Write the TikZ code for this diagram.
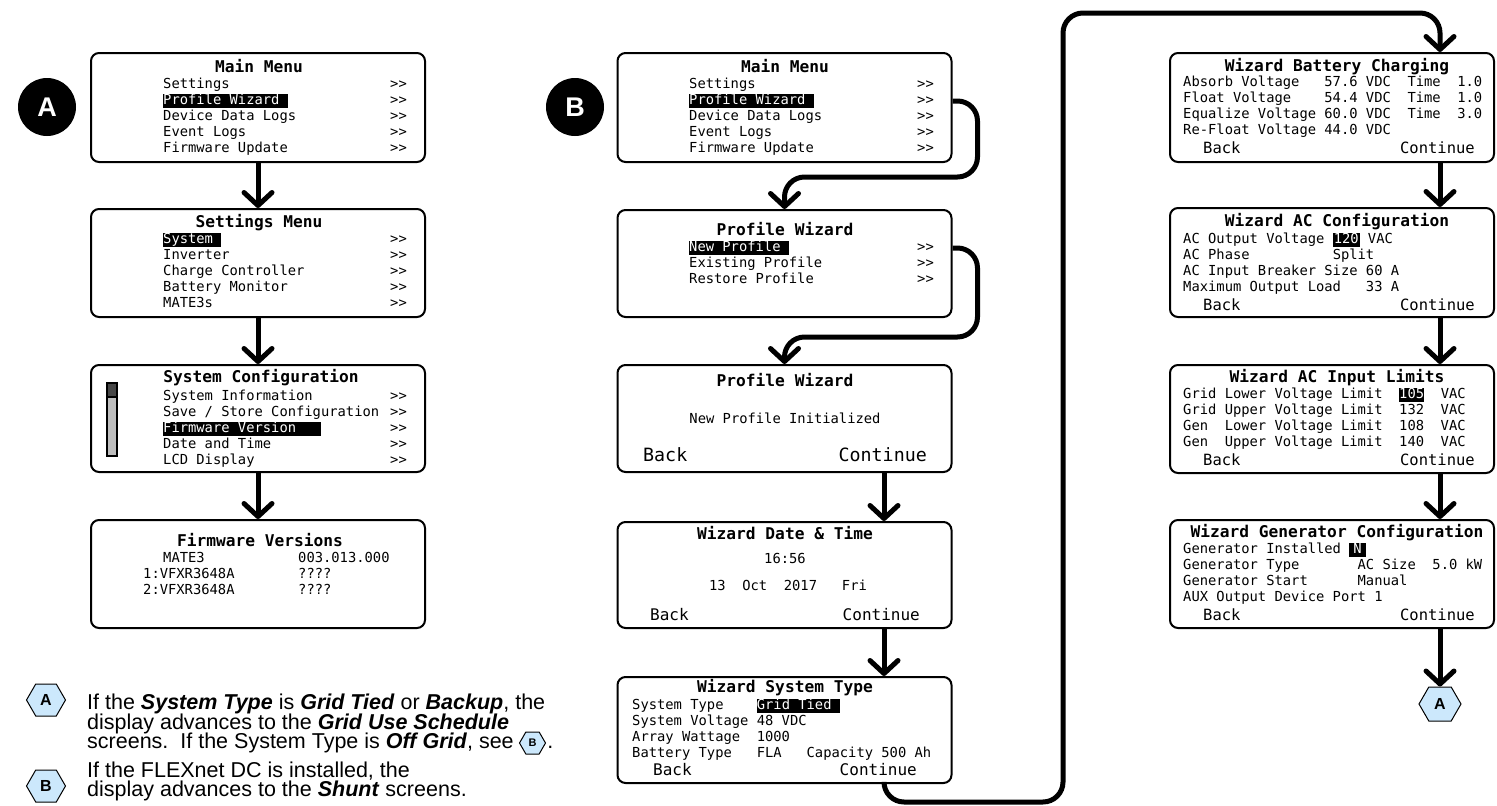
\documentclass[tikz,border=0pt]{standalone}
\usepackage{fontspec}
\usepackage{tikz}
\setmainfont{Liberation Sans}
\newfontfamily\lcdfont{DejaVu Sans Mono}
\usetikzlibrary{arrows.meta}
\usetikzlibrary{shapes.symbols}
\usetikzlibrary{positioning}

\definecolor{hexblue}{RGB}{204,232,252}
\definecolor{barbody}{RGB}{190,190,190}
\definecolor{bartop}{RGB}{70,70,70}

\newcommand{\hl}[1]{{\setlength{\fboxsep}{0pt}\colorbox{black}{\rule[-3pt]{0pt}{13.5pt}\textcolor{white}{#1}}}}

\tikzset{
    screen/.style={draw, line width=2pt, rounded corners=8pt, inner sep=0pt, minimum width=334pt},
    lcd/.style={font=\lcdfont\fontsize{13.8}{16}\selectfont, inner sep=0pt, text height=10pt, text depth=3pt, anchor=west},
    lcdtitle/.style={font=\lcdfont\bfseries\fontsize{16.2}{18}\selectfont, inner sep=0pt, text height=12pt, text depth=3.5pt},
    lcdkey/.style={font=\lcdfont\fontsize{#1}{#1}\selectfont, inner sep=0pt},
    lcdkey/.default=16,
    flow/.style={line width=5pt, -{Straight Barb[length=13pt, width=28pt, line cap=round, line join=round]}},
    elbow/.style={rounded corners=20pt},
    badge/.style={circle, fill=black, inner sep=0pt, minimum size=58pt, text=white, font=\bfseries\fontsize{27}{27}\selectfont},
    hexa/.style={signal, signal to=west and east, signal pointer angle=120, draw, line width=1pt, fill=hexblue, inner sep=0pt, font=\bfseries\fontsize{#1}{#1}\selectfont},
    notetext/.style={font=\fontsize{21.5}{21.5}\selectfont, inner sep=0pt, anchor=west}
}

\begin{document}
\begin{tikzpicture}[x=1pt, y=-1pt]
    \useasboundingbox (0,0) rectangle (1497,806);

    % Column A
    \node[badge] (badgeA) at (47,107) {A};

    \node[screen, minimum height=109pt] (mmA) at (258,107.5) {};
    \node[lcdtitle] (mmA-t) at (259,68) {Main Menu};
    \foreach \t [count=\i, evaluate=\i as \y using 69+16*\i] in {Settings, \hl{Profile Wizard~}, Device Data Logs, Event Logs, Firmware Update} {
        \node[lcd] (mmA-\i) at (163,\y) {\t};
        \node[lcd] (mmA-g\i) at (390,\y) {>{}>};
    }

    \node[screen, minimum height=108pt] (smA) at (258,263) {};
    \node[lcdtitle] (smA-t) at (259,223) {Settings Menu};
    \foreach \t [count=\i, evaluate=\i as \y using 224+16*\i] in {\hl{System~}, Inverter, Charge Controller, Battery Monitor, MATE3s} {
        \node[lcd] (smA-\i) at (163,\y) {\t};
        \node[lcd] (smA-g\i) at (390,\y) {>{}>};
    }

    \node[screen, minimum height=107pt] (scA) at (258,418.5) {};
    \node[lcdtitle] (scA-t) at (261,378) {System Configuration};
    \foreach \t [count=\i, evaluate=\i as \y using 381+16*\i] in {System Information, Save / Store Configuration, \hl{Firmware Version~~~}, Date and Time, LCD Display} {
        \node[lcd] (scA-\i) at (163,\y) {\t};
        \node[lcd] (scA-g\i) at (390,\y) {>{}>};
    }
    \draw[line width=1.5pt, fill=barbody] (107,383) rectangle (117,456);
    \draw[line width=1.5pt, fill=bartop] (107,383) rectangle (117,397);

    \node[screen, minimum height=108pt] (fvA) at (258,574) {};
    \node[lcdtitle] (fvA-t) at (260,542) {Firmware Versions};
    \foreach \a/\b/\x [count=\i, evaluate=\i as \y using 543+16*\i] in {MATE3/003.013.000/163, 1:VFXR3648A/????/143, 2:VFXR3648A/????/143} {
        \node[lcd] (fvA-\i) at (\x,\y) {\a};
        \node[lcd] (fvA-v\i) at (298,\y) {\b};
    }

    % Column B
    \node[badge] (badgeB) at (575,107) {B};

    \node[screen, minimum height=109pt] (mmB) at (784.5,107.5) {};
    \node[lcdtitle] (mmB-t) at (785,68) {Main Menu};
    \foreach \t [count=\i, evaluate=\i as \y using 69+16*\i] in {Settings, \hl{Profile Wizard~}, Device Data Logs, Event Logs, Firmware Update} {
        \node[lcd] (mmB-\i) at (689,\y) {\t};
        \node[lcd] (mmB-g\i) at (917,\y) {>{}>};
    }

    \node[screen, minimum height=107pt] (pwB) at (784.5,263.5) {};
    \node[lcdtitle] (pwB-t) at (785,231) {Profile Wizard};
    \foreach \t [count=\i, evaluate=\i as \y using 232+16*\i] in {\hl{New Profile~}, Existing Profile, Restore Profile} {
        \node[lcd] (pwB-\i) at (689,\y) {\t};
        \node[lcd] (pwB-g\i) at (917,\y) {>{}>};
    }

    \node[screen, minimum height=107pt] (piB) at (784.5,418.5) {};
    \node[lcdtitle] (piB-t) at (785,382) {Profile Wizard};
    \node[lcd, anchor=center] (piB-m) at (785,420) {New Profile Initialized};
    \node[lcdkey=18.3, anchor=west] (piB-b) at (643,455) {Back};
    \node[lcdkey=18.3, anchor=east] (piB-c) at (927,455) {Continue};

    \node[screen, minimum height=106pt] (dtB) at (784.5,575) {};
    \node[lcdtitle] (dtB-t) at (785,535) {Wizard Date \& Time};
    \node[lcd, anchor=center] (dtB-h) at (785,560) {16:56};
    \node[lcd, anchor=center] (dtB-d) at (788,587) {13~~Oct~~2017~~~Fri};
    \node[lcdkey, anchor=west] (dtB-b) at (650,615) {Back};
    \node[lcdkey, anchor=east] (dtB-c) at (920,615) {Continue};

    \node[screen, minimum height=106pt] (stB) at (784.5,730) {};
    \node[lcdtitle] (stB-t) at (785,688) {Wizard System Type};
    \foreach \t [count=\i, evaluate=\i as \y using 690+16*\i] in {System Type~~~~\hl{Grid Tied~}, System Voltage 48 VDC, Array Wattage~~1000, Battery Type~~~FLA~~~Capacity 500 Ah}
        \node[lcd] (stB-\i) at (632,\y) {\t};
    \node[lcdkey, anchor=west] (stB-b) at (653,770) {Back};
    \node[lcdkey, anchor=east] (stB-c) at (917,770) {Continue};

    % Column right
    \node[screen, minimum width=324pt, minimum height=109pt] (bcR) at (1332,107.5) {};
    \node[lcdtitle] (bcR-t) at (1337,67) {Wizard Battery Charging};
    \foreach \t [count=\i, evaluate=\i as \y using 67+16*\i] in {Absorb Voltage~~~57.6 VDC~~Time~~1.0, Float Voltage~~~~54.4 VDC~~Time~~1.0, Equalize Voltage 60.0 VDC~~Time~~3.0, Re-Float Voltage 44.0 VDC}
        \node[lcd] (bcR-\i) at (1183,\y) {\t};
    \node[lcdkey=15.5, anchor=west] (bcR-b) at (1203,148) {Back};
    \node[lcdkey=15.5, anchor=east] (bcR-c) at (1475,148) {Continue};

    \node[screen, minimum width=324pt, minimum height=109pt] (acR) at (1332,262.5) {};
    \node[lcdtitle] (acR-t) at (1337,222) {Wizard AC Configuration};
    \foreach \t [count=\i, evaluate=\i as \y using 224+16*\i] in {AC Output Voltage \hl{\kern1pt 120\kern1pt} VAC, AC Phase~~~~~~~~~~Split, AC Input Breaker Size 60 A, Maximum Output Load~~~33 A}
        \node[lcd] (acR-\i) at (1183,\y) {\t};
    \node[lcdkey=15.5, anchor=west] (acR-b) at (1203,305) {Back};
    \node[lcdkey=15.5, anchor=east] (acR-c) at (1475,305) {Continue};

    \node[screen, minimum width=324pt, minimum height=108pt] (ilR) at (1332,419) {};
    \node[lcdtitle] (ilR-t) at (1337,378) {Wizard AC Input Limits};
    \foreach \t [count=\i, evaluate=\i as \y using 379+16*\i] in {Grid Lower Voltage Limit~~\hl{105}~~VAC, Grid Upper Voltage Limit~~132~~VAC, Gen~~Lower Voltage Limit~~108~~VAC, Gen~~Upper Voltage Limit~~140~~VAC}
        \node[lcd] (ilR-\i) at (1183,\y) {\t};
    \node[lcdkey=15.5, anchor=west] (ilR-b) at (1203,460) {Back};
    \node[lcdkey=15.5, anchor=east] (ilR-c) at (1475,460) {Continue};

    \node[screen, minimum width=324pt, minimum height=108pt] (gcR) at (1332,574) {};
    \node[lcdtitle] (gcR-t) at (1337,533) {Wizard Generator Configuration};
    \foreach \t [count=\i, evaluate=\i as \y using 534+16*\i] in {Generator Installed \hl{\kern4pt N\kern4pt}, Generator Type~~~~~~~AC Size~~5.0 kW, Generator Start~~~~~~Manual, AUX Output Device Port 1}
        \node[lcd] (gcR-\i) at (1183,\y) {\t};
    \node[lcdkey=15.5, anchor=west] (gcR-b) at (1203,615) {Back};
    \node[lcdkey=15.5, anchor=east] (gcR-c) at (1475,615) {Continue};

    \node[hexa=16, minimum width=42pt, minimum height=34pt] (hexR) at (1440,704) {A};

    % Notes
    \node[hexa=16, minimum width=39pt, minimum height=32pt] (hexA) at (46,700) {A};
    \node[notetext] (note1) at (87,704) {If the \textbf{\textit{System Type}} is \textbf{\textit{Grid Tied}} or \textbf{\textit{Backup}}, the};
    \node[notetext] (note2) at (87,723.5) {display advances to the \textbf{\textit{Grid Use Schedule}}};
    \node[notetext] (note3) at (87,743) {screens.\ \ If the System Type is \textbf{\textit{Off Grid}}, see};
    \node[hexa=11, minimum width=26pt, minimum height=22pt, right=5pt of note3] (hexB2) {B};
    \node[notetext, anchor=base west] (note3b) at ([xshift=1pt]hexB2.east |- note3.base) {.};
    \node[hexa=16, minimum width=39pt, minimum height=32pt] (hexB) at (46,786) {B};
    \node[notetext] (note4) at (87,771) {If the FLEXnet DC is installed, the};
    \node[notetext] (note5) at (87,791) {display advances to the \textbf{\textit{Shunt}} screens.};

    % Arrows
    \coordinate (colB) at (884,0);
    \coordinate (colR) at (1440,0);
    \coordinate (lowbend) at (1063,802);
    \coordinate (topbend) at (1063,13);

    \draw[flow] (mmA.south) -- (smA.north);
    \draw[flow] (smA.south) -- (scA.north);
    \draw[flow] (scA.south) -- (fvA.north);

    \draw[flow, elbow] (mmB.east |- mmB-2) -- ++(25,0) -- ++(0,76) -| (pwB.north);
    \draw[flow, elbow] (pwB.east |- pwB-1) -- ++(25,0) -- ++(0,89) -| (piB.north);
    \draw[flow] (piB.south -| colB) -- (dtB.north -| colB);
    \draw[flow] (dtB.south -| colB) -- (stB.north -| colB);
    \draw[flow, elbow] (stB.south -| colB) |- (lowbend) -- (topbend) -| (bcR.north -| colR);

    \draw[flow] (bcR.south -| colR) -- (acR.north -| colR);
    \draw[flow] (acR.south -| colR) -- (ilR.north -| colR);
    \draw[flow] (ilR.south -| colR) -- (gcR.north -| colR);
    \draw[flow] (gcR.south -| colR) -- (hexR.north);

\end{tikzpicture}
\end{document}
